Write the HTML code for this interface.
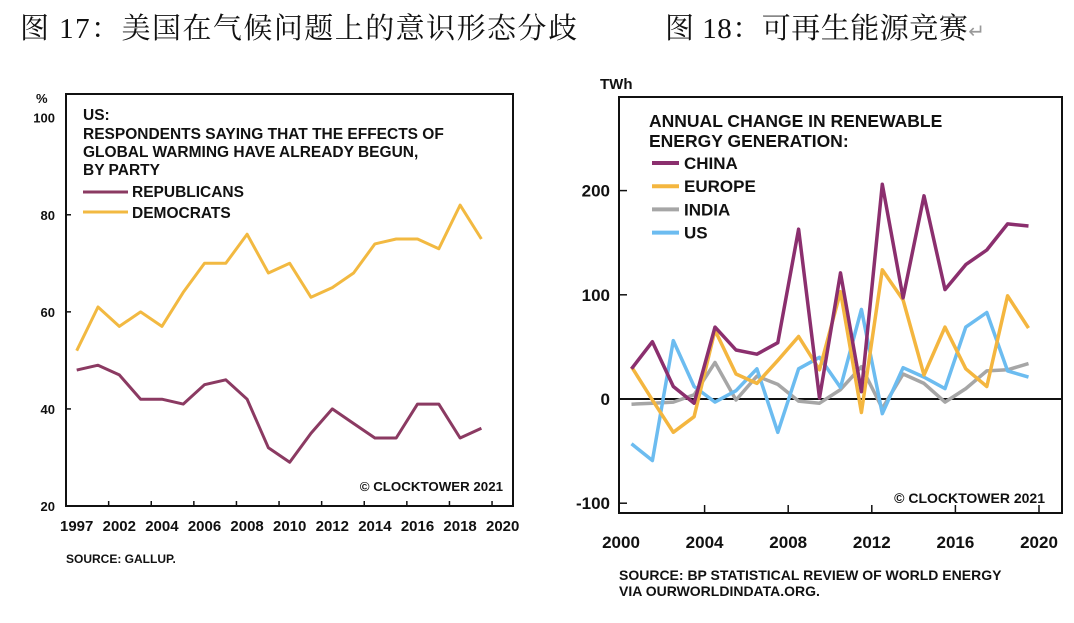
<!DOCTYPE html>
<html><head><meta charset="utf-8">
<style>
html,body{margin:0;padding:0;background:#fff;}
body{width:1074px;height:623px;overflow:hidden;position:relative;}
svg{position:absolute;left:0;top:0;}
.b{font-family:"Liberation Sans",Arial,sans-serif;font-weight:bold;fill:#111;}
.cjk{font-family:"Liberation Serif","Noto Serif CJK SC",serif;fill:#111;}
</style></head>
<body>
<svg id="svg" width="1074" height="623" viewBox="0 0 1074 623">
  <text class="cjk" x="20" y="38" font-size="29" textLength="557" lengthAdjust="spacing">图 17：美国在气候问题上的意识形态分歧</text>
  <text class="cjk" x="665" y="38" font-size="29" textLength="320" lengthAdjust="spacing">图 18：可再生能源竞赛<tspan fill="#999" font-size="20">↵</tspan></text>

  <g id="left">
    <rect x="66" y="94" width="447" height="412" fill="none" stroke="#111" stroke-width="2"/>
    <text class="b" x="36" y="103" font-size="13">%</text>
    <g id="lyt"></g><g id="lxt"></g>
    <text class="b" x="83" y="120" font-size="15.5">US:</text>
    <text class="b" x="83" y="139" font-size="15.5">RESPONDENTS SAYING THAT THE EFFECTS OF</text>
    <text class="b" x="83" y="157" font-size="15.5">GLOBAL WARMING HAVE ALREADY BEGUN,</text>
    <text class="b" x="83" y="175" font-size="15.5">BY PARTY</text>
    <line x1="83" y1="192" x2="128" y2="192" stroke="#8b3a62" stroke-width="3"/>
    <text class="b" x="132" y="197" font-size="15.5">REPUBLICANS</text>
    <line x1="83" y1="212" x2="128" y2="212" stroke="#f2b941" stroke-width="3"/>
    <text class="b" x="132" y="218" font-size="15.5">DEMOCRATS</text>
    <g id="lseries"></g>
    <text class="b" x="503" y="491" font-size="13.3" text-anchor="end">© CLOCKTOWER 2021</text>
    <text class="b" x="66" y="563" font-size="12">SOURCE: GALLUP.</text>
  </g>

  <g id="right">
    <rect x="619" y="97" width="443" height="416" fill="none" stroke="#111" stroke-width="2"/>
    <text class="b" x="600" y="89" font-size="15">TWh</text>
    <g id="ryt"></g><g id="rxt"></g>
    <text class="b" x="649" y="127" font-size="17.5">ANNUAL CHANGE IN RENEWABLE</text>
    <text class="b" x="649" y="147" font-size="17.5">ENERGY GENERATION:</text>
    <g id="rleg"></g>
    <g id="rseries"></g>
    <text class="b" x="1045" y="503" font-size="14" text-anchor="end">© CLOCKTOWER 2021</text>
    <text class="b" x="619" y="580" font-size="14">SOURCE: BP STATISTICAL REVIEW OF WORLD ENERGY</text>
    <text class="b" x="619" y="596" font-size="14">VIA OURWORLDINDATA.ORG.</text>
  </g>
</svg>
<script>
const leftYears = ["1997","2001","2002","2003","2004","2005","2006","2007","2008","2009","2010","2011","2012","2013","2014","2015","2016","2017","2018","2019"];
const republicans = [48,49,47,42,42,41,45,46,42,32,29,35,40,37,34,34,41,41,34,36];
const democrats = [52,61,57,60,57,64,70,70,76,68,70,63,65,68,74,75,75,73,82,75];
const leftYTicks = [20,40,60,80,100];
const leftXLabels = ["1997","2002","2004","2006","2008","2010","2012","2014","2016","2018","2020"];

const rightYears = [2000.5,2001.5,2002.5,2003.5,2004.5,2005.5,2006.5,2007.5,2008.5,2009.5,2010.5,2011.5,2012.5,2013.5,2014.5,2015.5,2016.5,2017.5,2018.5,2019.5];
const china = [29,55,12,-4,69,47,43,54,163,1,121,7,206,97,195,105,129,143,168,166];
const europe = [31,-1,-32,-17,66,24,15,37,60,28,103,-13,124,95,23,69,29,12,99,68];
const india = [-5,-4,-3,4,35,-1,22,14,-2,-4,9,31,-9,24,15,-3,10,27,28,34];
const us = [-43,-59,56,12,-3,8,29,-32,29,40,11,86,-14,30,21,10,69,83,27,21];
const rightYTicks = [-100,0,100,200];
const rightXTicks = [2000,2004,2008,2012,2016,2020];

const NS = "http://www.w3.org/2000/svg";
function mk(tag, attrs, parent, txt){const e=document.createElementNS(NS,tag);for(const k in attrs)e.setAttribute(k,attrs[k]);if(txt!==undefined)e.textContent=txt;parent.appendChild(e);return e;}

const lx = i => 76.7 + i*21.3;
const ly = v => 506 - (v-20)*(506-117.7)/80;
const lyt = document.getElementById('lyt');
leftYTicks.forEach(v=>{
  const t = mk('text',{class:'b',x:55,y:ly(v)+5,'font-size':13,'text-anchor':'end'},lyt,String(v));
  
  
  if(v>20&&v<100){const l=mk('line',{x1:66,x2:71,y1:ly(v),y2:ly(v),stroke:'#111','stroke-width':1.5},lyt);
  
  }
});
const lxt = document.getElementById('lxt');
leftXLabels.forEach((s,k)=>{
  const t = mk('text',{class:'b',x:lx(2*k),y:531,'font-size':15,'text-anchor':'middle'},lxt,s);
  
  
  if(k<10){const l=mk('line',{x1:lx(2*k+1.5),x2:lx(2*k+1.5),y1:506,y2:501,stroke:'#111','stroke-width':1.5},lxt);
  
  }
});
const ls = document.getElementById('lseries');
[[republicans,'#8b3a62','republicans-line'],[democrats,'#f2b941','democrats-line']].forEach(([d,c,n])=>{
  const p = mk('polyline',{points:d.map((v,i)=>lx(i).toFixed(1)+','+ly(v).toFixed(1)).join(' '),fill:'none',stroke:c,'stroke-width':3,'stroke-linejoin':'round'},ls);
  
  
});

const rx = yr => 621 + (yr-2000)*20.9;
const ry = v => 399 - v*1.042;
const ryt = document.getElementById('ryt');
rightYTicks.forEach(v=>{
  const t = mk('text',{class:'b',x:610,y:ry(v)+6,'font-size':17,'text-anchor':'end'},ryt,String(v));
  
  
  const l=mk('line',{x1:619,x2:v===0?1062:627,y1:ry(v),y2:ry(v),stroke:'#111','stroke-width':v===0?2:1.5},ryt);
  
  
});
const rxt = document.getElementById('rxt');
rightXTicks.forEach(yr=>{
  const t = mk('text',{class:'b',x:rx(yr),y:548,'font-size':17,'text-anchor':'middle'},rxt,String(yr));
  
  
  if(yr>2000){const l=mk('line',{x1:rx(yr),x2:rx(yr),y1:513,y2:505,stroke:'#111','stroke-width':1.5},rxt);
  
  }
});
const seriesR = [[china,'#8b2f6e','CHINA','china-line'],[europe,'#f4b63f','EUROPE','europe-line'],[india,'#a6a6a6','INDIA','india-line'],[us,'#6cbcf0','US','us-line']];
const rleg = document.getElementById('rleg');
seriesR.forEach(([d,c,lab,n],i)=>{
  const y = 163 + i*23.2;
  const l = mk('line',{x1:652,x2:679,y1:y,y2:y,stroke:c,'stroke-width':4},rleg);
  
  
  const t = mk('text',{class:'b',x:684,y:y+6,'font-size':17},rleg,lab);
  
  
});
const rs = document.getElementById('rseries');
[2,3,1,0].forEach(idx=>{
  const [d,c,lab,n] = seriesR[idx];
  const p = mk('polyline',{points:d.map((v,i)=>rx(rightYears[i]).toFixed(1)+','+ry(v).toFixed(1)).join(' '),fill:'none',stroke:c,'stroke-width':3.5,'stroke-linejoin':'round'},rs);
  
  
});
</script>
</body></html>
